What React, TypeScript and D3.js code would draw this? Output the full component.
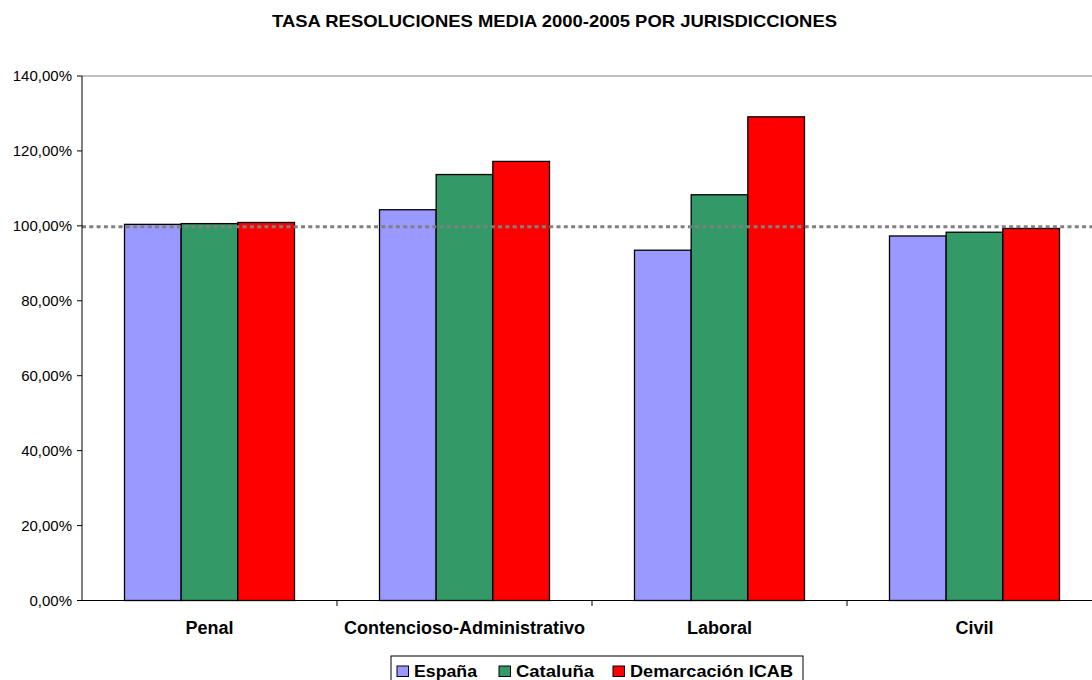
import React from "react";
import { scaleBand, scaleLinear } from "d3";

const categories = ["Penal", "Contencioso-Administrativo", "Laboral", "Civil"];
const seriesNames = ["España", "Cataluña", "Demarcación ICAB"];
const espana = [100.4, 104.3, 93.5, 97.3];
const cataluna = [100.6, 113.7, 108.3, 98.3];
const icab = [100.9, 117.2, 129.1, 99.3];
const yTicks = [0, 20, 40, 60, 80, 100, 120, 140];
const refValue = 100;
const title = "TASA RESOLUCIONES MEDIA 2000-2005 POR JURISDICCIONES";

const colors = ["#9999FF", "#339966", "#FF0000"];
const W = 1092;
const H = 680;
const font = "'Liberation Sans', Arial, sans-serif";

const seriesValues = [espana, cataluna, icab];

// plot area runs past the right edge of the picture, as in the source
const x = scaleBand<string>().domain(categories).range([82, 1102]).paddingInner(0).paddingOuter(0);
const inner = scaleBand<number>()
  .domain([0, 1, 2])
  .range([0, x.bandwidth()])
  .paddingOuter(0.75)
  .paddingInner(0);
const y = scaleLinear().domain([0, 140]).range([600.5, 76]);

const fmt = (v: number) => v.toFixed(2).replace(".", ",") + "%";

// legend text widths as measured (text is slightly stretched in the source)
const legendX = [397, 499, 613];
const legendW = [63, 78, 163];

export default function App() {
  const x0 = x.range()[0];
  return (
    <svg width={W} height={H} style={{ position: "absolute", left: 0, top: 0, background: "#fff" }}>
      <text
        x={554.5}
        y={26.5}
        textAnchor="middle"
        fontFamily={font}
        fontWeight="bold"
        fontSize={16.3}
        textLength={565}
        lengthAdjust="spacingAndGlyphs"
      >
        {title}
      </text>

      {/* top border of the plot area */}
      <line x1={x0} x2={W} y1={y(140)} y2={y(140)} stroke="#808080" strokeWidth={1} />

      {categories.map((c, ci) =>
        seriesValues.map((vals, si) => (
          <rect
            key={c + si}
            x={(x(c) as number) + (inner(si) as number)}
            y={y(vals[ci])}
            width={inner.bandwidth()}
            height={y(0) - y(vals[ci])}
            fill={colors[si]}
            stroke="#000"
            strokeWidth={1.3}
          />
        ))
      )}

      {/* reference line at 100% */}
      <line
        x1={x0}
        x2={W}
        y1={y(refValue) + 1}
        y2={y(refValue) + 1}
        stroke="#808080"
        strokeWidth={3}
        strokeDasharray="4 3.3"
      />

      {/* y axis */}
      <line x1={x0} x2={x0} y1={y(140)} y2={y(0)} stroke="#000" strokeWidth={1} />
      {yTicks.map((t) => (
        <g key={t}>
          <line x1={x0 - 5} x2={x0} y1={y(t)} y2={y(t)} stroke="#000" />
          <text x={72} y={y(t)} dy="0.35em" textAnchor="end" fontFamily={font} fontSize={15}>
            {fmt(t)}
          </text>
        </g>
      ))}

      {/* x axis */}
      <line x1={x0} x2={W} y1={y(0)} y2={y(0)} stroke="#000" strokeWidth={1} />
      {categories.map((c, i) => (
        <g key={c}>
          {i > 0 && <line x1={x(c)} x2={x(c)} y1={y(0)} y2={y(0) + 5.5} stroke="#000" />}
          <text
            x={(x(c) as number) + x.bandwidth() / 2}
            y={634}
            textAnchor="middle"
            fontFamily={font}
            fontWeight="bold"
            fontSize={18}
          >
            {c}
          </text>
        </g>
      ))}

      {/* legend */}
      <rect x={391} y={656} width={412} height={40} fill="#fff" stroke="#000" strokeWidth={1} />
      {seriesNames.map((s, i) => (
        <g key={s}>
          <rect x={legendX[i]} y={666} width={11.5} height={10.5} fill={colors[i]} stroke="#000" strokeWidth={1} />
          <text
            x={legendX[i] + 17}
            y={676.5}
            fontFamily={font}
            fontWeight="bold"
            fontSize={17}
            textLength={legendW[i]}
            lengthAdjust="spacingAndGlyphs"
          >
            {s}
          </text>
        </g>
      ))}
    </svg>
  );
}
